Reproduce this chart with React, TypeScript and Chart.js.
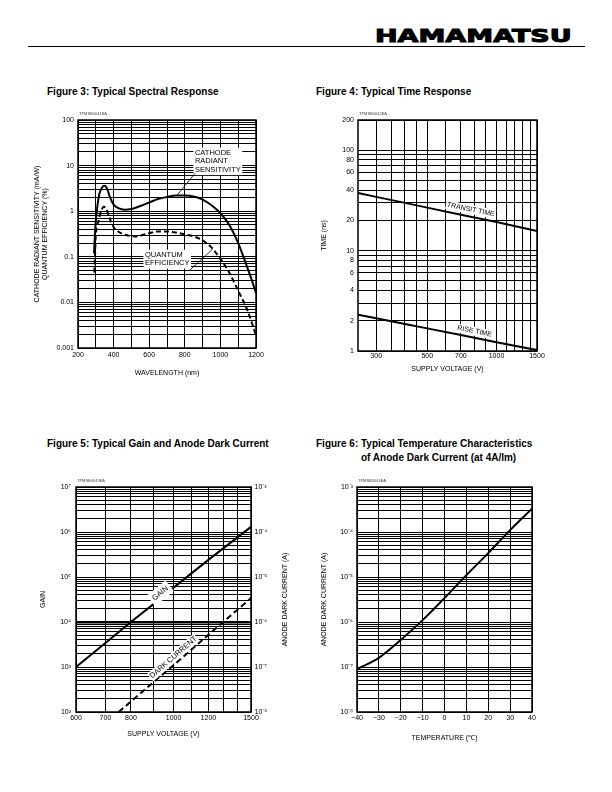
import React, { useEffect, useRef } from 'react';
import { Chart, registerables } from 'chart.js';

Chart.register(...registerables);

const FONT = "'Liberation Sans', Arial, Helvetica, sans-serif";

/* ---------- Figure 3: Typical Spectral Response ---------- */
const wavelengthCathode = [290, 295, 300, 310, 320, 335, 350, 365, 380, 400, 430, 460, 500, 550, 600, 650, 700, 750, 800, 850, 900, 950, 1000, 1050, 1100, 1150, 1175, 1200];
const cathodeSensitivity = [0.12, 0.3, 0.6, 1.4, 2.4, 3.3, 3.6, 3.0, 2.0, 1.4, 1.15, 1.08, 1.12, 1.3, 1.55, 1.85, 2.05, 2.2, 2.2, 2.1, 1.8, 1.35, 0.9, 0.5, 0.2, 0.06, 0.032, 0.016];
const wavelengthQE = [292, 296, 300, 315, 330, 345, 360, 375, 400, 430, 470, 520, 600, 650, 700, 750, 800, 850, 900, 950, 1000, 1050, 1100, 1150, 1200];
const quantumEfficiency = [0.045, 0.12, 0.3, 0.6, 1.0, 1.25, 1.1, 0.75, 0.45, 0.35, 0.3, 0.28, 0.33, 0.36, 0.36, 0.34, 0.31, 0.28, 0.23, 0.16, 0.09, 0.045, 0.018, 0.007, 0.0019];
const spectralXGrid = [200, 300, 400, 500, 600, 700, 800, 900, 1000, 1100, 1200];
const spectralXLabels = [200, 400, 600, 800, 1000, 1200];
const spectralYLabels = ['0.001', '0.01', '0.1', '1', '10', '100'];

/* ---------- Figure 4: Typical Time Response ---------- */
const voltageTime = [250, 300, 400, 500, 700, 1000, 1500];
const transitTime = [37.5, 34.3, 29.9, 26.8, 22.8, 19.3, 15.7];
const riseTime = [2.3, 2.12, 1.86, 1.68, 1.44, 1.22, 1.02];
const timeXGrid = [300, 350, 400, 450, 500, 600, 700, 800, 900, 1000, 1100, 1200, 1300, 1400, 1500];
const timeXLabels = [300, 500, 700, 1000, 1500];
const timeYGrid = [1, 2, 3, 4, 5, 6, 7, 8, 9, 10, 20, 30, 40, 50, 60, 70, 80, 90, 100, 200];
const timeYLabels = [1, 2, 4, 6, 8, 10, 20, 40, 60, 80, 100, 200];

/* ---------- Figure 5: Typical Gain and Anode Dark Current ---------- */
const voltageGain = [600, 700, 800, 900, 1000, 1200, 1500];
const gain = [1.0e3, 3.4e3, 1.0e4, 2.5e4, 5.8e4, 2.4e5, 1.3e6];
const voltageDark = [750, 800, 900, 1000, 1200, 1500];
const darkCurrent = [1.0e-8, 1.7e-8, 4.6e-8, 1.1e-7, 5.2e-7, 3.4e-6];
const gainXGrid = [600, 700, 800, 900, 1000, 1100, 1200, 1300, 1400, 1500];
const gainXLabels = [600, 700, 800, 1000, 1200, 1500];
const gainExponents = [2, 3, 4, 5, 6, 7];
const darkExponents = [-8, -7, -6, -5, -4, -3];

/* ---------- Figure 6: Temperature Characteristics of Anode Dark Current ---------- */
const temperature = [-40, -30, -20, -10, 0, 10, 20, 30, 40];
const tempDarkCurrent = [9e-8, 1.6e-7, 4e-7, 1.1e-6, 3.4e-6, 1.1e-5, 3.4e-5, 1.1e-4, 3.3e-4];
const tempXLabels = [-40, -30, -20, -10, 0, 10, 20, 30, 40];
const tempExponents = [-8, -7, -6, -5, -4, -3];

/* ---------- helpers ---------- */
const SUP: Record<string, string> = { '0': '⁰', '1': '¹', '2': '²', '3': '³', '4': '⁴', '5': '⁵', '6': '⁶', '7': '⁷', '8': '⁸', '9': '⁹', '-': '⁻' };
const pow10Label = (e: number) => '10' + String(e).split('').map((c) => SUP[c]).join('');
const logGrid = (e0: number, e1: number) => {
  const out: number[] = [];
  for (let e = e0; e < e1; e++) for (let m = 1; m <= 9; m++) out.push(parseFloat((m * Math.pow(10, e)).toPrecision(6)));
  out.push(Math.pow(10, e1));
  return out;
};
const sameLog = (a: number, b: number) => a > 0 && b > 0 && Math.abs(Math.log10(a) - Math.log10(b)) < 1e-6;
const sameLin = (a: number, b: number) => Math.abs(a - b) < 1e-6;

type Frame = { cl: number; ct: number; cr: number; cb: number; pl: number; pt: number; pr: number; pb: number };
const LH = 8.4; // 7px font line height

const tickFont = { family: FONT, size: 7 };

function xAxis(f: Frame, type: string, min: number, max: number, grid: number[], label: (v: number) => string, title: string, titleCY: number, tickPad: number) {
  return {
    type, min, max, position: 'bottom',
    afterBuildTicks: (s: any) => { s.ticks = grid.map((v) => ({ value: v })); },
    afterFit: (s: any) => { s.height = f.cb - f.pb; },
    ticks: { autoSkip: false, maxRotation: 0, minRotation: 0, padding: tickPad, color: '#000', font: tickFont, callback: (v: any) => label(Number(v)) },
    grid: { color: '#000', lineWidth: 1, drawTicks: false },
    border: { display: false },
    title: { display: true, text: title, color: '#000', font: tickFont, padding: { top: 0, bottom: f.cb - titleCY - LH / 2 } },
  };
}

function yAxis(f: Frame, type: string, min: number, max: number, grid: number[], label: (v: number) => string, title: string | string[], titleCX: number, tickPad: number, lineWidth: any = 1) {
  return {
    type, min, max, position: 'left',
    afterBuildTicks: (s: any) => { s.ticks = grid.map((v) => ({ value: v })); },
    afterFit: (s: any) => { s.width = f.pl - f.cl; },
    ticks: { autoSkip: false, padding: tickPad, color: '#000', font: tickFont, callback: (v: any) => label(Number(v)) },
    grid: { color: '#000', lineWidth, drawTicks: false },
    border: { display: false },
    title: { display: true, text: title, color: '#000', font: tickFont, padding: { top: titleCX - f.cl - LH / 2, bottom: 0 } },
  };
}

function line(xs: number[], ys: number[], dash: number[] = [], yAxisID = 'y', smooth = true) {
  return {
    data: xs.map((x, i) => ({ x, y: ys[i] })),
    borderColor: '#000', borderWidth: 2, borderDash: dash, pointRadius: 0, fill: false,
    cubicInterpolationMode: smooth ? 'monotone' : 'default', tension: 0, yAxisID,
  };
}

function pointOnLine(chart: any, ds: number, xVal: number) {
  const px = chart.scales.x.getPixelForValue(xVal);
  const pts = chart.getDatasetMeta(ds).data;
  for (let i = 0; i < pts.length - 1; i++) {
    const a = pts[i], b = pts[i + 1];
    if (px >= a.x && px <= b.x) {
      const t = (px - a.x) / (b.x - a.x || 1);
      return { x: px, y: a.y + t * (b.y - a.y), angle: Math.atan2(b.y - a.y, b.x - a.x) };
    }
  }
  const a = pts[0], b = pts[pts.length - 1];
  return { x: a.x, y: a.y, angle: Math.atan2(b.y - a.y, b.x - a.x) };
}

function boxText(ctx: CanvasRenderingContext2D, lines: string[], x: number, y: number, o: { size?: number; align?: 'left' | 'center'; angle?: number; pad?: number; lh?: number } = {}) {
  const size = o.size ?? 7.5, lh = o.lh ?? 8.5, pad = o.pad ?? 1.5;
  ctx.save();
  ctx.translate(x, y);
  ctx.rotate(o.angle ?? 0);
  ctx.font = `${size}px ${FONT}`;
  const w = Math.max(...lines.map((l) => ctx.measureText(l).width));
  const x0 = o.align === 'center' ? -w / 2 : 0;
  const h = (lines.length - 1) * lh + size;
  ctx.fillStyle = '#fff';
  ctx.fillRect(x0 - pad, -size / 2 - pad, w + 2 * pad, h + 2 * pad);
  ctx.fillStyle = '#000';
  ctx.textAlign = 'left';
  ctx.textBaseline = 'middle';
  lines.forEach((l, i) => ctx.fillText(l, x0, i * lh));
  ctx.restore();
  return w;
}

function framePlugin(code: string, draw?: (chart: any) => void) {
  return {
    id: 'frameAndNotes',
    afterDatasetsDraw(chart: any) {
      const { ctx, chartArea: a } = chart;
      ctx.save();
      if (draw) draw(chart);
      ctx.strokeStyle = '#000';
      ctx.lineWidth = 1.5;
      ctx.strokeRect(a.left, a.top, a.right - a.left, a.bottom - a.top);
      ctx.fillStyle = '#444';
      ctx.font = `4px ${FONT}`;
      ctx.textAlign = 'left';
      ctx.textBaseline = 'middle';
      ctx.fillText(code, a.left + 1, a.top - 6);
      ctx.restore();
    },
  };
}

function baseOptions(f: Frame, scales: any, rightPad = true) {
  return {
    responsive: false,
    animation: false,
    events: [],
    layout: { padding: { left: 0, bottom: 0, top: f.pt - f.ct, right: rightPad ? f.cr - f.pr : 0 } },
    plugins: { legend: { display: false }, tooltip: { enabled: false }, title: { display: false } },
    scales,
  };
}

/* ---------- frames (page coordinates) ---------- */
const F3: Frame = { cl: 18, ct: 100, cr: 276, cb: 382, pl: 78, pt: 120, pr: 256, pb: 348 };
const F4: Frame = { cl: 305, ct: 100, cr: 556, cb: 382, pl: 358, pt: 120, pr: 537, pb: 351 };
const F5: Frame = { cl: 25, ct: 465, cr: 300, cb: 750, pl: 76, pt: 487, pr: 251, pb: 712 };
const F6: Frame = { cl: 305, ct: 465, cr: 556, cb: 750, pl: 357, pt: 487, pr: 532, pb: 712 };

/* ---------- chart builders ---------- */
function buildFig3(canvas: HTMLCanvasElement) {
  const notes = (chart: any) => {
    const { ctx, scales } = chart;
    const lh = 8.5;
    const cx = scales.x.getPixelForValue(857);
    const cy = scales.y.getPixelForValue(19);
    boxText(ctx, ['CATHODE', 'RADIANT', 'SENSITIVITY'], cx, cy, { lh });
    const p1 = pointOnLine(chart, 0, 755);
    const qx = scales.x.getPixelForValue(576);
    const qy = scales.y.getPixelForValue(0.11);
    const qw = boxText(ctx, ['QUANTUM', 'EFFICIENCY'], qx, qy, { lh });
    const p2 = pointOnLine(chart, 1, 957);
    ctx.strokeStyle = '#000';
    ctx.lineWidth = 0.8;
    ctx.setLineDash([]);
    ctx.beginPath();
    ctx.moveTo(cx, cy + 2 * lh + 3.5);
    ctx.lineTo(p1.x, p1.y);
    ctx.moveTo(qx + qw, qy + lh + 7);
    ctx.lineTo(p2.x, p2.y);
    ctx.stroke();
  };
  return new Chart(canvas, {
    type: 'line',
    data: { datasets: [line(wavelengthCathode, cathodeSensitivity), line(wavelengthQE, quantumEfficiency, [5, 3])] } as any,
    options: baseOptions(F3, {
      x: xAxis(F3, 'linear', 200, 1200, spectralXGrid, (v) => (spectralXLabels.some((l) => sameLin(l, v)) ? String(v) : ''), 'WAVELENGTH (nm)', 373.3, 3),
      y: yAxis(F3, 'logarithmic', 0.001, 100, logGrid(-3, 2), (v) => {
        const i = spectralYLabels.findIndex((l) => sameLog(Number(l), v));
        return i >= 0 ? spectralYLabels[i] : '';
      }, ['CATHODE RADIANT SENSITIVITY (mA/W)', 'QUANTUM EFFICIENCY (%)'], 36.7, 4),
    }) as any,
    plugins: [framePlugin('TPMSB0041EA', notes)],
  });
}

function buildFig4(canvas: HTMLCanvasElement) {
  const notes = (chart: any) => {
    const { ctx } = chart;
    const a = pointOnLine(chart, 0, 762);
    const n1 = { x: Math.sin(a.angle) * 7, y: -Math.cos(a.angle) * 7 };
    boxText(ctx, ['TRANSIT TIME'], a.x + n1.x, a.y + n1.y, { align: 'center', angle: a.angle, size: 7, pad: 1 });
    const b = pointOnLine(chart, 1, 793);
    const n2 = { x: Math.sin(b.angle) * 6.5, y: -Math.cos(b.angle) * 6.5 };
    boxText(ctx, ['RISE TIME'], b.x + n2.x, b.y + n2.y, { align: 'center', angle: b.angle, size: 7, pad: 1 });
  };
  return new Chart(canvas, {
    type: 'line',
    data: { datasets: [line(voltageTime, transitTime, [], 'y', false), line(voltageTime, riseTime, [], 'y', false)] } as any,
    options: baseOptions(F4, {
      x: xAxis(F4, 'logarithmic', 250, 1500, timeXGrid, (v) => (timeXLabels.some((l) => sameLog(l, v)) ? String(v) : ''), 'SUPPLY VOLTAGE (V)', 369.3, 1),
      y: yAxis(F4, 'logarithmic', 1, 200, timeYGrid, (v) => (timeYLabels.some((l) => sameLog(l, v)) ? String(v) : ''), 'TIME (ns)', 324, 4),
    }) as any,
    plugins: [framePlugin('TPMSB0042EA', notes)],
  });
}

function buildFig5(canvas: HTMLCanvasElement) {
  const notes = (chart: any) => {
    const { ctx, chartArea } = chart;
    const a = pointOnLine(chart, 0, 945);
    const n1 = { x: Math.sin(a.angle) * 4, y: -Math.cos(a.angle) * 4 };
    boxText(ctx, ['GAIN'], a.x + n1.x, a.y + n1.y, { align: 'center', angle: a.angle, size: 7.5, pad: 3 });
    const b = pointOnLine(chart, 1, 1020);
    const n2 = { x: Math.sin(b.angle) * 6, y: -Math.cos(b.angle) * 6 };
    boxText(ctx, ['DARK CURRENT'], b.x + n2.x, b.y + n2.y, { align: 'center', angle: b.angle, size: 7.5, pad: 1 });
    ctx.save();
    ctx.translate(chartArea.right + 34, (chartArea.top + chartArea.bottom) / 2);
    ctx.rotate(-Math.PI / 2);
    ctx.font = `7px ${FONT}`;
    ctx.fillStyle = '#000';
    ctx.textAlign = 'center';
    ctx.textBaseline = 'middle';
    ctx.fillText('ANODE DARK CURRENT (A)', 0, 0);
    ctx.restore();
  };
  const gridWidth = (c: any) => (c.tick && sameLog(c.tick.value, 1e4) ? 2.5 : 1);
  return new Chart(canvas, {
    type: 'line',
    data: { datasets: [line(voltageGain, gain, [], 'y', false), line(voltageDark, darkCurrent, [6, 3.5], 'y2', false)] } as any,
    options: baseOptions(F5, {
      x: xAxis(F5, 'logarithmic', 600, 1500, gainXGrid, (v) => (gainXLabels.some((l) => sameLog(l, v)) ? String(v) : ''), 'SUPPLY VOLTAGE (V)', 734, 2),
      y: yAxis(F5, 'logarithmic', 1e2, 1e7, logGrid(2, 7), (v) => {
        const e = gainExponents.find((x) => sameLog(Math.pow(10, x), v));
        return e !== undefined ? pow10Label(e) : '';
      }, 'GAIN', 43.3, 5, gridWidth),
      y2: {
        type: 'logarithmic', position: 'right', min: 1e-8, max: 1e-3,
        afterBuildTicks: (s: any) => { s.ticks = darkExponents.map((e) => ({ value: Math.pow(10, e) })); },
        afterFit: (s: any) => { s.width = F5.cr - F5.pr; },
        ticks: { autoSkip: false, padding: 3.5, color: '#000', font: tickFont, callback: (v: any) => {
          const e = darkExponents.find((x) => sameLog(Math.pow(10, x), Number(v)));
          return e !== undefined ? pow10Label(e) : '';
        } },
        grid: { display: false, drawTicks: false },
        border: { display: false },
        title: { display: false },
      },
    }, false) as any,
    plugins: [framePlugin('TPMSB0043EA', notes)],
  });
}

function buildFig6(canvas: HTMLCanvasElement) {
  return new Chart(canvas, {
    type: 'line',
    data: { datasets: [line(temperature, tempDarkCurrent)] } as any,
    options: baseOptions(F6, {
      x: xAxis(F6, 'linear', -40, 40, tempXLabels, (v) => (v < 0 ? '\u2212' + Math.abs(v) : String(v)), 'TEMPERATURE (\u2103)', 738.3, 2),
      y: yAxis(F6, 'logarithmic', 1e-8, 1e-3, logGrid(-8, -3), (v) => {
        const e = tempExponents.find((x) => sameLog(Math.pow(10, x), v));
        return e !== undefined ? pow10Label(e) : '';
      }, 'ANODE DARK CURRENT (A)', 324, 4),
    }) as any,
    plugins: [framePlugin('TPMSB0044EA')],
  });
}

function ChartCanvas({ f, build }: { f: Frame; build: (c: HTMLCanvasElement) => Chart }) {
  const ref = useRef<HTMLCanvasElement>(null);
  useEffect(() => {
    const chart = build(ref.current!);
    return () => chart.destroy();
  }, []);
  const w = f.cr - f.cl, h = f.cb - f.ct;
  return (
    <canvas ref={ref} width={w} height={h}
      style={{ position: 'absolute', left: f.cl, top: f.ct, width: w, height: h }} />
  );
}

function Title({ left, top, text }: { left: number; top: number; text: string }) {
  return (
    <div style={{ position: 'absolute', left, top, font: `bold 10px ${FONT}`, lineHeight: '12px', whiteSpace: 'nowrap', color: '#000' }}>{text}</div>
  );
}

export default function App() {
  return (
    <div style={{ position: 'absolute', left: 0, top: 0, width: 612, height: 792, background: '#fff', overflow: 'hidden' }}>
      <div style={{ position: 'absolute', left: 375, top: 27, fontFamily: "'DejaVu Sans', sans-serif", fontWeight: 900, fontSize: 18, lineHeight: '18px', transform: 'scaleX(1.5)', transformOrigin: 'left top', whiteSpace: 'nowrap', color: '#000', WebkitTextStroke: '1px #000' } as any}>HAMAMATSU</div>
      <div style={{ position: 'absolute', left: 28, top: 46, width: 557, height: 1, background: '#000' }} />
      <Title left={47} top={86} text="Figure 3: Typical Spectral Response" />
      <Title left={316} top={86} text="Figure 4: Typical Time Response" />
      <Title left={47} top={438} text="Figure 5: Typical Gain and Anode Dark Current" />
      <Title left={316} top={438} text="Figure 6: Typical Temperature Characteristics" />
      <Title left={361} top={452} text="of Anode Dark Current (at 4A/lm)" />
      <ChartCanvas f={F3} build={buildFig3} />
      <ChartCanvas f={F4} build={buildFig4} />
      <ChartCanvas f={F5} build={buildFig5} />
      <ChartCanvas f={F6} build={buildFig6} />
    </div>
  );
}
